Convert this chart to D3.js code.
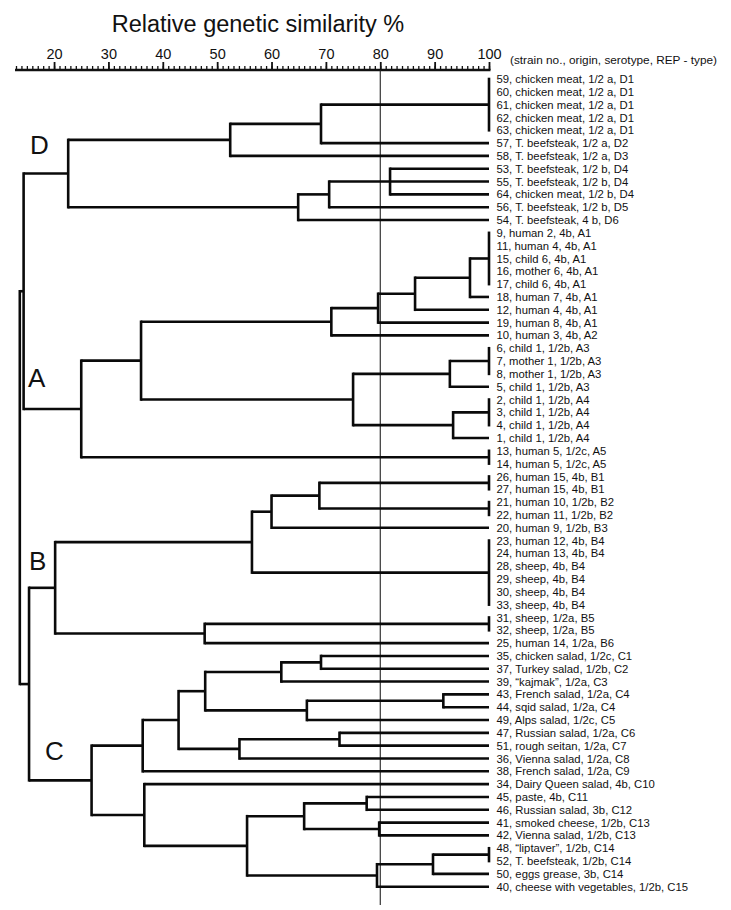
<!DOCTYPE html>
<html>
<head>
<meta charset="utf-8">
<script src="https://cdn.jsdelivr.net/npm/d3@7/dist/d3.min.js"></script>
<style>
  html, body { margin: 0; padding: 0; background: #fff; }
  svg { display: block; }
  text { font-family: "Liberation Sans", Arial, sans-serif; fill: #111; }
</style>
</head>
<body>
<svg id="chart" width="731" height="910"></svg>
<script>
// ---------------- DATA ----------------
const axisTitle = "Relative genetic similarity %";
const legendNote = "(strain no., origin, serotype, REP - type)";
const majorTicks = [20, 30, 40, 50, 60, 70, 80, 90, 100];
const cutoffLevel = 80;

// leaves, top to bottom
const leafIds = [59,60,61,62,63,57,58,53,55,64,56,54,
  9,11,15,16,17,18,12,19,10,6,7,8,5,2,3,4,1,13,14,
  26,27,21,22,20,23,24,28,29,30,33,31,32,25,
  35,37,39,43,44,49,47,51,36,38,34,45,46,41,42,48,52,50,40];
const leafLabels = [
  "59, chicken meat, 1/2 a, D1","60, chicken meat, 1/2 a, D1","61, chicken meat, 1/2 a, D1",
  "62, chicken meat, 1/2 a, D1","63, chicken meat, 1/2 a, D1","57, T. beefsteak, 1/2 a, D2",
  "58, T. beefsteak, 1/2 a, D3","53, T. beefsteak, 1/2 b, D4","55, T. beefsteak, 1/2 b, D4",
  "64, chicken meat, 1/2 b, D4","56, T. beefsteak, 1/2 b, D5","54, T. beefsteak, 4 b, D6",
  "9, human 2, 4b, A1","11, human 4, 4b, A1","15, child 6, 4b, A1","16, mother 6, 4b, A1",
  "17, child 6, 4b, A1","18, human 7, 4b, A1","12, human 4, 4b, A1","19, human 8, 4b, A1",
  "10, human 3, 4b, A2","6, child 1, 1/2b, A3","7, mother 1, 1/2b, A3","8, mother 1, 1/2b, A3",
  "5, child 1, 1/2b, A3","2, child 1, 1/2b, A4","3, child 1, 1/2b, A4","4, child 1, 1/2b, A4",
  "1, child 1, 1/2b, A4","13, human 5, 1/2c, A5","14, human 5, 1/2c, A5",
  "26, human 15, 4b, B1","27, human 15, 4b, B1","21, human 10, 1/2b, B2","22, human 11, 1/2b, B2",
  "20, human 9, 1/2b, B3","23, human 12, 4b, B4","24, human 13, 4b, B4","28, sheep, 4b, B4",
  "29, sheep, 4b, B4","30, sheep, 4b, B4","33, sheep, 4b, B4","31, sheep, 1/2a, B5",
  "32, sheep, 1/2a, B5","25, human 14, 1/2a, B6",
  "35, chicken salad, 1/2c, C1","37, Turkey salad, 1/2b, C2","39, \u201ckajmak\u201d, 1/2a, C3",
  "43, French salad, 1/2a, C4","44, sqid salad, 1/2a, C4","49, Alps salad, 1/2c, C5",
  "47, Russian salad, 1/2a, C6","51, rough seitan, 1/2a, C7","36, Vienna salad, 1/2a, C8",
  "38, French salad, 1/2a, C9","34, Dairy Queen salad, 4b, C10","45, paste, 4b, C11",
  "46, Russian salad, 3b, C12","41, smoked cheese, 1/2b, C13","42, Vienna salad, 1/2b, C13",
  "48, \u201cliptaver\u201d, 1/2b, C14","52, T. beefsteak, 1/2b, C14","50, eggs grease, 3b, C14",
  "40, cheese with vegetables, 1/2b, C15"
];

// merges (children are strain numbers or earlier node ids), with similarity %
const nodeIds = ["d1","d2","d3","d4","d5","d6","D",
  "a1","a2","a3","a4","a5","a6","a7","a8","a9","a10","a11","a12","A","DA",
  "b1","b2","b3","b4","b5","b6","b7","b8","B",
  "c1","c2","c3","c4","c5","c6","c7","c8","c9","c10","c11","c12","c13","c14","c15","c16","c17","C",
  "BC","root"];
const nodeChildren = [
  [59,60,61,62,63],["d1",57],["d2",58],[53,55,64],["d4",56],["d5",54],["d3","d6"],
  [9,11,15,16,17],["a1",18],["a2",12],["a3",19],["a4",10],[6,7,8],["a6",5],[2,3,4],["a8",1],
  ["a7","a9"],["a5","a10"],[13,14],["a11","a12"],["D","A"],
  [26,27],[21,22],["b1","b2"],["b3",20],[23,24,28,29,30,33],["b4","b5"],[31,32],["b7",25],["b6","b8"],
  [35,37],["c1",39],[43,44],["c3",49],["c2","c4"],[47,51],["c6",36],["c5","c7"],["c8",38],
  [45,46],[41,42],["c10","c11"],[48,52],["c13",50],["c14",40],["c12","c15"],[34,"c16"],["c9","c17"],
  ["B","C"],["DA","BC"]
];
const nodeSims = [
  100,69.1,52.4,81.8,70.6,64.9,22.6,
  100,96.5,86.4,79.6,71.0,100,92.8,100,93.4,75.0,36.0,100,25.0,14.4,
  100,100,68.8,60.0,100,56.4,100,47.7,20.2,
  69.1,61.8,91.6,66.5,47.8,72.5,54.1,42.9,36.3,77.5,79.8,66.0,100,89.7,79.4,55.5,36.6,26.9,
  15.4,13.7
];
const clusterLetters = ["D","A","B","C"];

// ---------------- LAYOUT ----------------
const svg = d3.select("#chart");
const x = d3.scaleLinear().domain([13, 100]).range([16, 489]);
const y = d3.scaleLinear().domain([0, leafIds.length - 1]).range([79, 886.7]);
const axisY = 70;
const sw = 2.6;

const nodes = new Map();
leafIds.forEach((id, i) => nodes.set(String(id), {id, y: y(i), sim: 100, leaf: true, label: leafLabels[i]}));
nodeIds.forEach((id, i) => {
  const ch = nodeChildren[i].map(c => nodes.get(String(c)));
  const ys = ch.map(c => c.y);
  nodes.set(id, {id, children: ch, sim: nodeSims[i], y: (d3.min(ys) + d3.max(ys)) / 2, leaf: false});
});

// title
svg.append("text").attr("x", 258).attr("y", 32).attr("text-anchor", "middle")
  .style("font-size", "23.5px").text(axisTitle);

// axis: minor + major ticks
const minor = d3.axisTop(x).tickValues(d3.range(13, 101, 1)).tickSize(4).tickSizeOuter(0).tickFormat("");
const major = d3.axisTop(x).tickValues(majorTicks).tickSize(8).tickSizeOuter(0).tickPadding(3);
const gMin = svg.append("g").attr("transform", `translate(0,${axisY})`).call(minor);
const gMaj = svg.append("g").attr("transform", `translate(0,${axisY})`).call(major);
gMin.selectAll(".tick line").attr("stroke", "#111").attr("stroke-width", 1.3);
gMin.select(".domain").attr("stroke", "#111").attr("stroke-width", 2.6)
  .attr("d", `M${x(13) - 1},0H${x(100) + 1.5}`);
gMaj.select(".domain").remove();
gMaj.selectAll(".tick line").attr("stroke", "#111").attr("stroke-width", 1.8);
gMaj.selectAll(".tick text").attr("fill", "#111").style("font-size", "14.5px")
  .style("font-family", '"Liberation Sans", Arial, sans-serif');

svg.append("text").attr("x", 510).attr("y", 64).style("font-size", "11.8px").text(legendNote);

// cutoff line
svg.append("line").attr("x1", x(cutoffLevel)).attr("x2", x(cutoffLevel))
  .attr("y1", axisY).attr("y2", 905).attr("stroke", "#222").attr("stroke-width", 1.1);

// branches
const gTree = svg.append("g").attr("stroke", "#0a0a0a").attr("stroke-width", sw).attr("fill", "none");
nodeIds.forEach(id => {
  const n = nodes.get(id);
  const ys = n.children.map(c => c.y);
  const xn = x(n.sim);
  gTree.append("line").attr("x1", xn).attr("x2", xn)
    .attr("y1", d3.min(ys) - sw / 2).attr("y2", d3.max(ys) + sw / 2);
  n.children.forEach(c => {
    const xc = x(c.sim);
    if (xc - xn > 0.1) {
      gTree.append("line").attr("x1", xn).attr("x2", xc).attr("y1", c.y).attr("y2", c.y);
    }
  });
});

// leaf labels
svg.append("g").selectAll("text").data(leafIds).join("text")
  .attr("x", x(100) + 7.5).attr("y", (d, i) => y(i)).attr("dy", "0.36em")
  .style("font-size", "11.3px").text((d, i) => leafLabels[i]);

// cluster letters
const letterPos = {D: [30, 20], A: [28, 22], B: [29, 18], C: [45, 20]};
clusterLetters.forEach(k => {
  const n = nodes.get(k);
  svg.append("text").attr("x", letterPos[k][0]).attr("y", n.y - letterPos[k][1])
    .style("font-size", "26px").text(k);
});
</script>
</body>
</html>
